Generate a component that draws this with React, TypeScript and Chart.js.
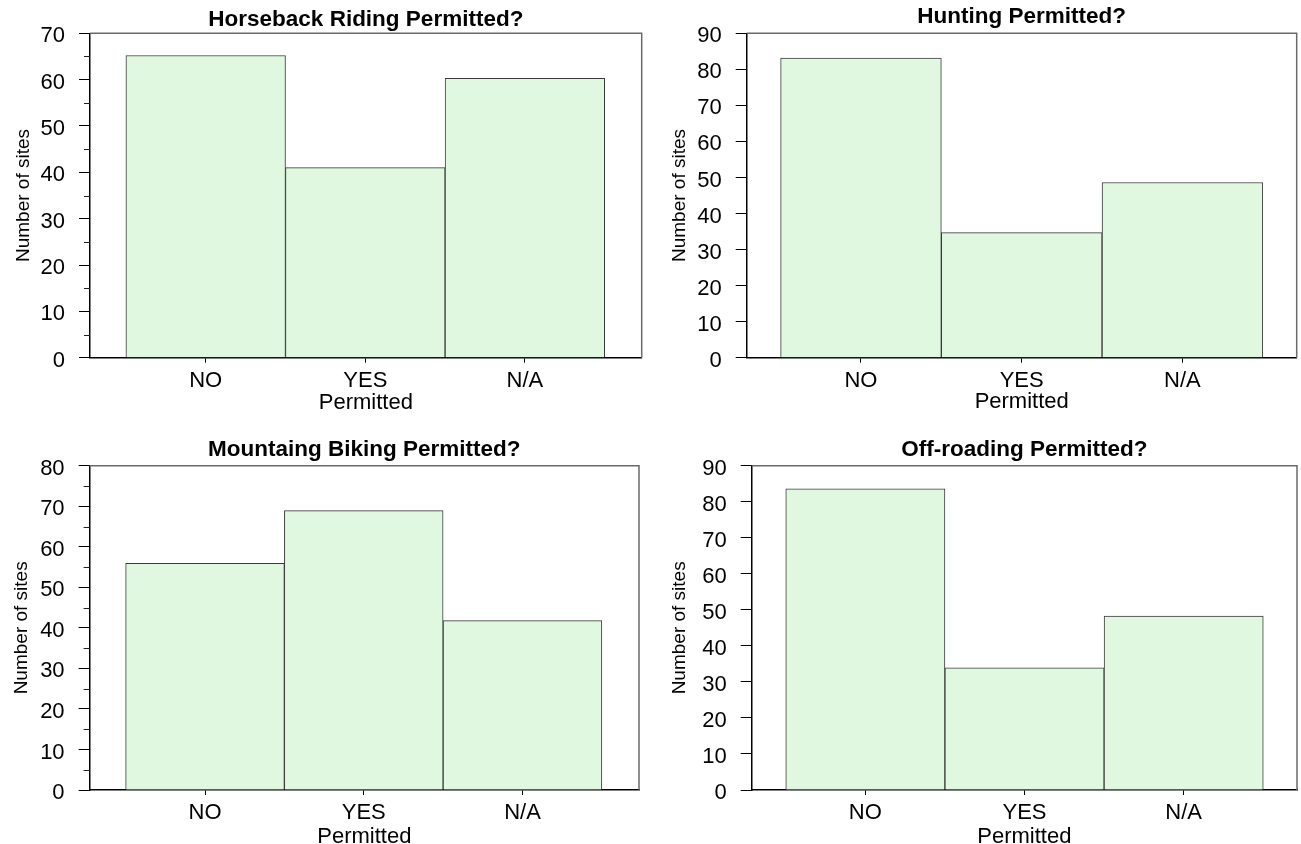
import React, { useEffect, useRef } from 'react';
import { Chart, registerables } from 'chart.js';

Chart.register(...registerables);

// ---- data ----
const categories = ['NO', 'YES', 'N/A'];
const horsebackValues = [65.2, 41, 60.3];
const huntingValues = [83.1, 34.7, 48.6];
const bikingValues = [55.9, 68.9, 41.8];
const offroadValues = [83.6, 33.9, 48.3];
const chartTitles = [
  'Horseback Riding Permitted?',
  'Hunting Permitted?',
  'Mountaing Biking Permitted?',
  'Off-roading Permitted?',
];
const yAxisMax = [70, 90, 80, 90];
const yTickStep = 10;
const xAxisTitle = 'Permitted';
const yAxisTitle = 'Number of sites';

const seriesList = [horsebackValues, huntingValues, bikingValues, offroadValues];

// ---- layout (positions/styles) ----
const panels = [
  { left: 0, top: 0, w: 650, h: 420, axisW: 90, padRight: 8.3, xAxisH: 62.3, tPadTop: 6.3, tPadBottom: 0, yTitlePad: 11.9, xTitlePad: 3.5, xMin: -0.725, xMax: 2.732, minor: true },
  { left: 650, top: 0, w: 651, h: 420, axisW: 96.7, padRight: 4.3, xAxisH: 62.3, tPadTop: 3.2, tPadBottom: 3.1, yTitlePad: 18.6, xTitlePad: 5.1, xMin: -0.711, xMax: 2.711, minor: false },
  { left: 0, top: 420, w: 650, h: 432, axisW: 89.6, padRight: 11, xAxisH: 62, tPadTop: 15.8, tPadBottom: 2.9, yTitlePad: 10, xTitlePad: 1.8, xMin: -0.727, xMax: 2.734, minor: true },
  { left: 650, top: 420, w: 651, h: 432, axisW: 101.7, padRight: 4, xAxisH: 62, tPadTop: 16.2, tPadBottom: 2.5, yTitlePad: 18.7, xTitlePad: 1.5, xMin: -0.714, xMax: 2.712, minor: false },
];

const FONT = "'Liberation Sans', Arial, Helvetica, sans-serif";
const TICK_SIZE = 22;
const TITLE_SIZE = 22.5;
const Y_TITLE_SIZE = 19;
const BAR_FILL = '#dff8df';
const BAR_EDGE = '#3a3a3a';

const framePlugin = {
  id: 'frame',
  afterDraw(chart: any, _args: any, opts: any) {
    const { ctx, chartArea: a, scales } = chart;
    ctx.save();
    ctx.strokeStyle = '#6a6a6a';
    ctx.lineWidth = 1.5;
    ctx.beginPath();
    ctx.moveTo(a.left, a.top);
    ctx.lineTo(a.right, a.top);
    ctx.lineTo(a.right, a.bottom);
    ctx.stroke();
    if (opts && opts.minor) {
      const y = scales.y;
      ctx.strokeStyle = '#222';
      ctx.lineWidth = 1;
      for (let v = opts.step / 2; v < opts.max; v += opts.step) {
        const py = Math.round(y.getPixelForValue(v)) + 0.5;
        ctx.beginPath();
        ctx.moveTo(a.left - 6, py);
        ctx.lineTo(a.left, py);
        ctx.stroke();
      }
    }
    ctx.restore();
  },
};

function Panel({ idx }: { idx: number }) {
  const ref = useRef<HTMLCanvasElement | null>(null);
  const p = panels[idx];
  useEffect(() => {
    if (!ref.current) return;
    const values = seriesList[idx];
    const chart = new Chart(ref.current, {
      type: 'bar',
      data: {
        datasets: [
          {
            data: values.map((v, i) => ({ x: i, y: v })),
            backgroundColor: BAR_FILL,
            borderColor: BAR_EDGE,
            borderWidth: 1,
            barPercentage: 1,
            categoryPercentage: 1,
          },
        ],
      },
      options: {
        responsive: false,
        animation: false,
        devicePixelRatio: 1,
        layout: { padding: { left: 0, right: p.padRight, top: 0, bottom: 0 } },
        plugins: {
          legend: { display: false },
          tooltip: { enabled: false },
          title: {
            display: true,
            text: chartTitles[idx],
            fullSize: false,
            color: '#000',
            font: { family: FONT, size: TITLE_SIZE, weight: 'bold', lineHeight: 1.2 },
            padding: { top: p.tPadTop, bottom: p.tPadBottom },
          },
          frame: { minor: p.minor, step: yTickStep, max: yAxisMax[idx] },
        } as any,
        scales: {
          x: {
            type: 'linear',
            min: p.xMin,
            max: p.xMax,
            offset: false,
            z: 1,
            afterBuildTicks: (scale: any) => {
              scale.ticks = categories.map((_, i) => ({ value: i }));
            },
            afterFit: (scale: any) => {
              scale.height = p.xAxisH;
            },
            ticks: {
              autoSkip: false,
              maxRotation: 0,
              minRotation: 0,
              padding: 5.2,
              color: '#000',
              font: { family: FONT, size: TICK_SIZE, lineHeight: 1.2 },
              callback: (v: any) => categories[Math.round(Number(v))] ?? '',
            },
            grid: {
              display: true,
              offset: false,
              drawOnChartArea: false,
              drawTicks: true,
              tickLength: 5,
              tickColor: '#000',
              tickWidth: 1,
            },
            border: { display: true, color: '#000', width: 1.5 },
            title: {
              display: true,
              text: xAxisTitle,
              color: '#000',
              font: { family: FONT, size: TICK_SIZE, lineHeight: 1.2 },
              padding: { top: 0, bottom: p.xTitlePad },
            },
          },
          y: {
            type: 'linear',
            min: 0,
            max: yAxisMax[idx],
            z: 1,
            afterFit: (scale: any) => {
              scale.width = p.axisW;
            },
            ticks: {
              stepSize: yTickStep,
              padding: 14,
              labelOffset: 3,
              color: '#000',
              font: { family: FONT, size: TICK_SIZE, lineHeight: 1.2 },
            },
            grid: {
              display: true,
              drawOnChartArea: false,
              drawTicks: true,
              tickLength: 11,
              tickColor: '#000',
              tickWidth: 1,
            },
            border: { display: true, color: '#000', width: 1.5 },
            title: {
              display: true,
              text: yAxisTitle,
              color: '#000',
              font: { family: FONT, size: Y_TITLE_SIZE, lineHeight: 1.2 },
              padding: { top: p.yTitlePad, bottom: 0 },
            },
          },
        },
      } as any,
      plugins: [framePlugin as any],
    });
    return () => chart.destroy();
  }, [idx]);
  return (
    <canvas
      ref={ref}
      width={p.w}
      height={p.h}
      style={{ position: 'absolute', left: p.left, top: p.top, width: p.w, height: p.h }}
    />
  );
}

export default function App() {
  return (
    <div
      style={{
        position: 'absolute',
        left: 0,
        top: 0,
        width: 1301,
        height: 844,
        overflow: 'hidden',
        background: '#fff',
      }}
    >
      {panels.map((_, i) => (
        <Panel key={i} idx={i} />
      ))}
    </div>
  );
}
